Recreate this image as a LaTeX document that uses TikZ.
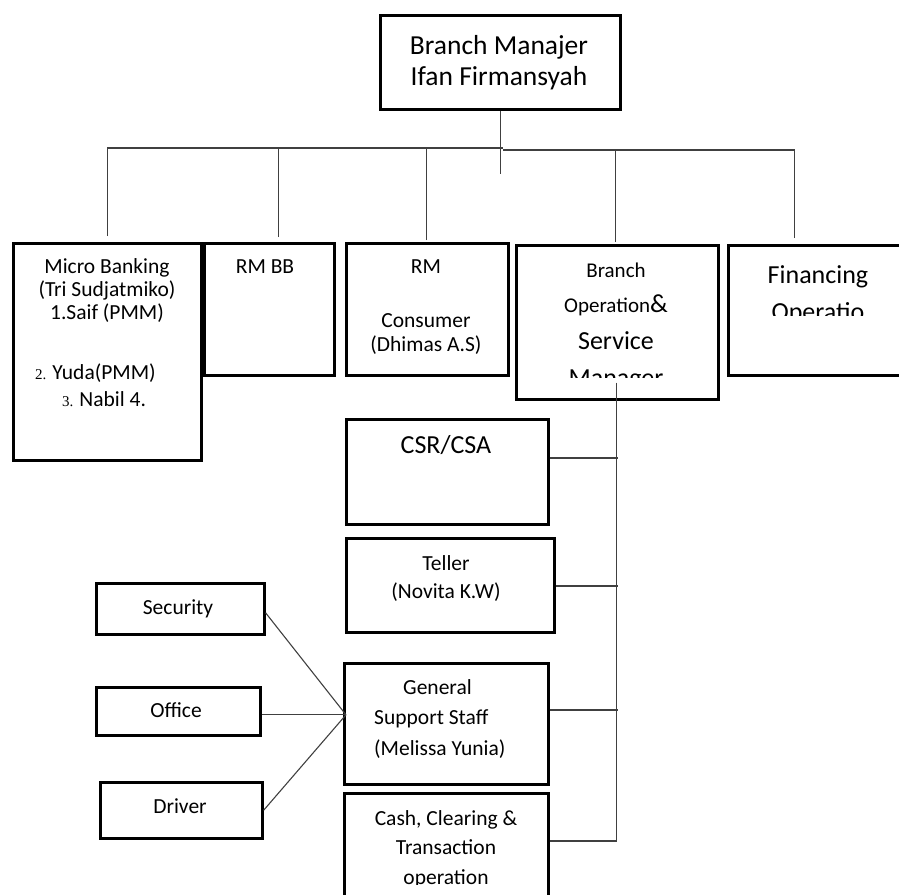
\documentclass[tikz,border=0pt]{standalone}
\usepackage{fontspec}
\setmainfont{Carlito}
\newfontfamily\listfont{Liberation Serif}
\usetikzlibrary{calc}

\tikzset{
  unit/.style={draw, line width=2.6pt, inner sep=0pt, anchor=north west},
  link/.style={line width=1.1pt, draw=black!75},
  txt/.style={align=center, inner sep=0pt, anchor=base},
}
\newcommand{\fs}[2]{\fontsize{#1}{#2}\selectfont}

\begin{document}
\begin{tikzpicture}[x=1pt, y=-1pt]
\useasboundingbox (0,0) rectangle (899,894);
\clip (0,0) rectangle (899,894);

% boxes
\node[unit, minimum width=240, minimum height=94] (bm) at (379,14) {};
\node[unit, minimum width=188, minimum height=217] (mb) at (12,242) {};
\node[unit, minimum width=130, minimum height=132] (rmbb) at (203,242) {};
\node[unit, minimum width=162, minimum height=132] (rmc) at (345,242) {};
\node[unit, minimum width=202, minimum height=154] (bo) at (515,244) {};
\node[unit, minimum width=190, minimum height=130] (fin) at (727,244) {};
\node[unit, minimum width=202, minimum height=105] (csr) at (345,418) {};
\node[unit, minimum width=208, minimum height=94] (tel) at (345,537) {};
\node[unit, minimum width=204, minimum height=121] (gss) at (343,662) {};
\node[unit, minimum width=204, minimum height=120] (cash) at (343,792) {};
\node[unit, minimum width=168, minimum height=51] (sec) at (95,582) {};
\node[unit, minimum width=164, minimum height=48] (off) at (95,686) {};
\node[unit, minimum width=162, minimum height=56] (drv) at (99,781) {};

% texts (base = last line)
\node[txt, font=\fs{27.5}{31}] (bmtxt) at (499,85) {Branch Manajer\\Ifan Firmansyah};
\node[txt, font=\fs{21.5}{23}] (mbtxt) at (107,319) {Micro Banking\\(Tri Sudjatmiko)\\1.Saif (PMM)};
\node[txt, anchor=base west, font=\fs{21.5}{23}] (mbtwo) at (35,379) {{\listfont\fs{15}{16}2.}\hspace{6pt}Yuda(PMM)};
\node[txt, anchor=base west, font=\fs{21.5}{23}] (mbthree) at (62,406) {{\listfont\fs{15}{16}3.}\hspace{6pt}Nabil 4.};
\node[txt, font=\fs{21.5}{23}] (rmbbtxt) at (265,273) {RM BB};
\node[txt, font=\fs{21.5}{24}] (rmctxt) at (426,351) {RM\\[30pt]Consumer\\(Dhimas A.S)};
\begin{scope}
  \clip (515,244) rectangle (717,377);
  \node[txt, font=\fs{21}{35}] (botxt) at (616,386)
    {Branch\\Operation{\fs{26}{35}\&}\\[2pt]{\fs{26}{35}Service}\\[2pt]{\fs{26}{35}Manager}};
\end{scope}
\begin{scope}
  \clip (727,244) rectangle (899,315);
  \node[txt, font=\fs{26}{37}] (fintxt) at (818,320) {Financing\\Operatio};
\end{scope}
\node[txt, font=\fs{26}{30}] (csrtxt) at (446,453) {CSR/CSA};
\node[txt, font=\fs{21.5}{28}] (teltxt) at (446,598) {Teller\\(Novita K.W)};
\node[txt, anchor=base west, align=left, font=\fs{21.5}{30.5}] (gsstxt) at (374,755)
  {\hspace*{29pt}General\\Support Staff\\(Melissa Yunia)};
\begin{scope}
  \clip (343,792) rectangle (547,884);
  \node[txt, font=\fs{21.5}{29.5}] (cashtxt) at (446,884) {Cash, Clearing \&\\Transaction\\operation};
\end{scope}
\node[txt, font=\fs{21.5}{26}] (sectxt) at (178,614) {Security};
\node[txt, font=\fs{21.5}{26}] (offtxt) at (176,717) {Office};
\node[txt, font=\fs{21.5}{26}] (drvtxt) at (180,813) {Driver};

% top level connectors
\coordinate (hubL) at (503,148);
\coordinate (hubR) at (503,150);
\draw[link] (bm.south) -- ++(0,63);
\draw[link] ($(mb.north)+(0,-6)$) |- (hubL);
\draw[link] ($(rmbb.north)+(9,-5)$) |- (hubL);
\draw[link] ($(rmc.north)+(-1,-2)$) |- (hubL);
\draw[link] ($(bo.north)+(-2,-2)$) |- (hubR);
\draw[link] ($(fin.north)+(-29,-6)$) |- (hubR);

% branch operation spine
\draw[link] ($(bo.south)+(-1,-18)$) |- ($(cash.north east)+(0,49)$);
\draw[link] ($(csr.north east)+(0,40)$) -- ++(68,0);
\draw[link] ($(tel.north east)+(0,49)$) -- ++(62,0);
\draw[link] ($(gss.north east)+(0,48)$) -- ++(68,0);

% general support staff
\coordinate (meet) at ($(gss.west)+(3,-9)$);
\draw[link] ($(sec.east)+(0,4)$) -- (meet);
\draw[link] (off.east |- meet) -- (meet);
\draw[link] (drv.east) -- (meet);
\end{tikzpicture}
\end{document}
